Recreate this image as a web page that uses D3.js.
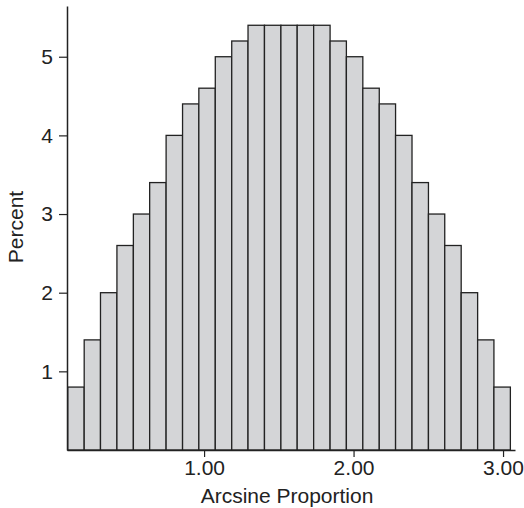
<!DOCTYPE html>
<html>
<head>
<meta charset="utf-8">
<script src="https://cdn.jsdelivr.net/npm/d3@7"></script>
<style>
  body { margin: 0; background: #fff; }
  svg text { font-family: "Liberation Sans", Arial, Helvetica, sans-serif; fill: #222; }
</style>
</head>
<body>
<svg id="chart" width="524" height="508"></svg>
<script>
// bin lower edges (plus final upper edge)
var binEdges = [0.088, 0.198, 0.307, 0.417, 0.527, 0.636, 0.746, 0.856, 0.965,
    1.075, 1.185, 1.294, 1.404, 1.514, 1.623, 1.733, 1.843, 1.952, 2.062,
    2.172, 2.281, 2.391, 2.501, 2.610, 2.720, 2.830, 2.939, 3.049];
var percents = [0.8, 1.4, 2.0, 2.6, 3.0, 3.4, 4.0, 4.4, 4.6, 5.0, 5.2,
    5.4, 5.4, 5.4, 5.4, 5.4,
    5.2, 5.0, 4.6, 4.4, 4.0, 3.4, 3.0, 2.6, 2.0, 1.4, 0.8];
var xTicks = [1, 2, 3];
var yTicks = [1, 2, 3, 4, 5];

var svg = d3.select("#chart");

var x = d3.scaleLinear().domain([0.083, 3.08]).range([67, 515]);
var y = d3.scaleLinear().domain([0, 5.645]).range([450, 6]);

var bins = percents.map(function(p, i){
    return {x0: binEdges[i], x1: binEdges[i + 1], v: p};
});

svg.append("g").selectAll("rect")
    .data(bins)
    .enter()
    .append("rect")
    .attr("x", function(d){ return x(d.x0); })
    .attr("y", function(d){ return y(d.v); })
    .attr("width", function(d){ return x(d.x1) - x(d.x0); })
    .attr("height", function(d){ return y(0) - y(d.v); })
    .attr("fill", "#d4d5d7")
    .attr("stroke", "#222")
    .attr("stroke-width", 1.3);

// x axis
var xAxis = svg.append("g")
    .attr("transform", "translate(0," + y(0) + ")")
    .call(d3.axisBottom(x).tickValues(xTicks).tickFormat(d3.format(".2f"))
        .tickSize(7).tickPadding(3).tickSizeOuter(0));
xAxis.select(".domain").attr("stroke", "#222").attr("stroke-width", 1.5);
xAxis.selectAll(".tick line").attr("stroke", "#222").attr("stroke-width", 1.2);
xAxis.selectAll(".tick text").attr("font-size", "21px").attr("fill", "#222");

// y axis
var yAxis = svg.append("g")
    .attr("transform", "translate(" + x.range()[0] + ",0)")
    .call(d3.axisLeft(y).tickValues(yTicks).tickFormat(d3.format("d"))
        .tickSize(8).tickPadding(6).tickSizeOuter(0));
yAxis.select(".domain").attr("stroke", "#222").attr("stroke-width", 1.5);
yAxis.selectAll(".tick line").attr("stroke", "#222").attr("stroke-width", 1.2);
yAxis.selectAll(".tick text").attr("font-size", "21px").attr("fill", "#222");

svg.append("text")
    .attr("x", 287)
    .attr("y", 503)
    .attr("text-anchor", "middle")
    .attr("font-size", "21px")
    .text("Arcsine Proportion");

svg.append("text")
    .attr("transform", "translate(23,227) rotate(-90)")
    .attr("text-anchor", "middle")
    .attr("font-size", "21px")
    .text("Percent");
</script>
</body>
</html>
